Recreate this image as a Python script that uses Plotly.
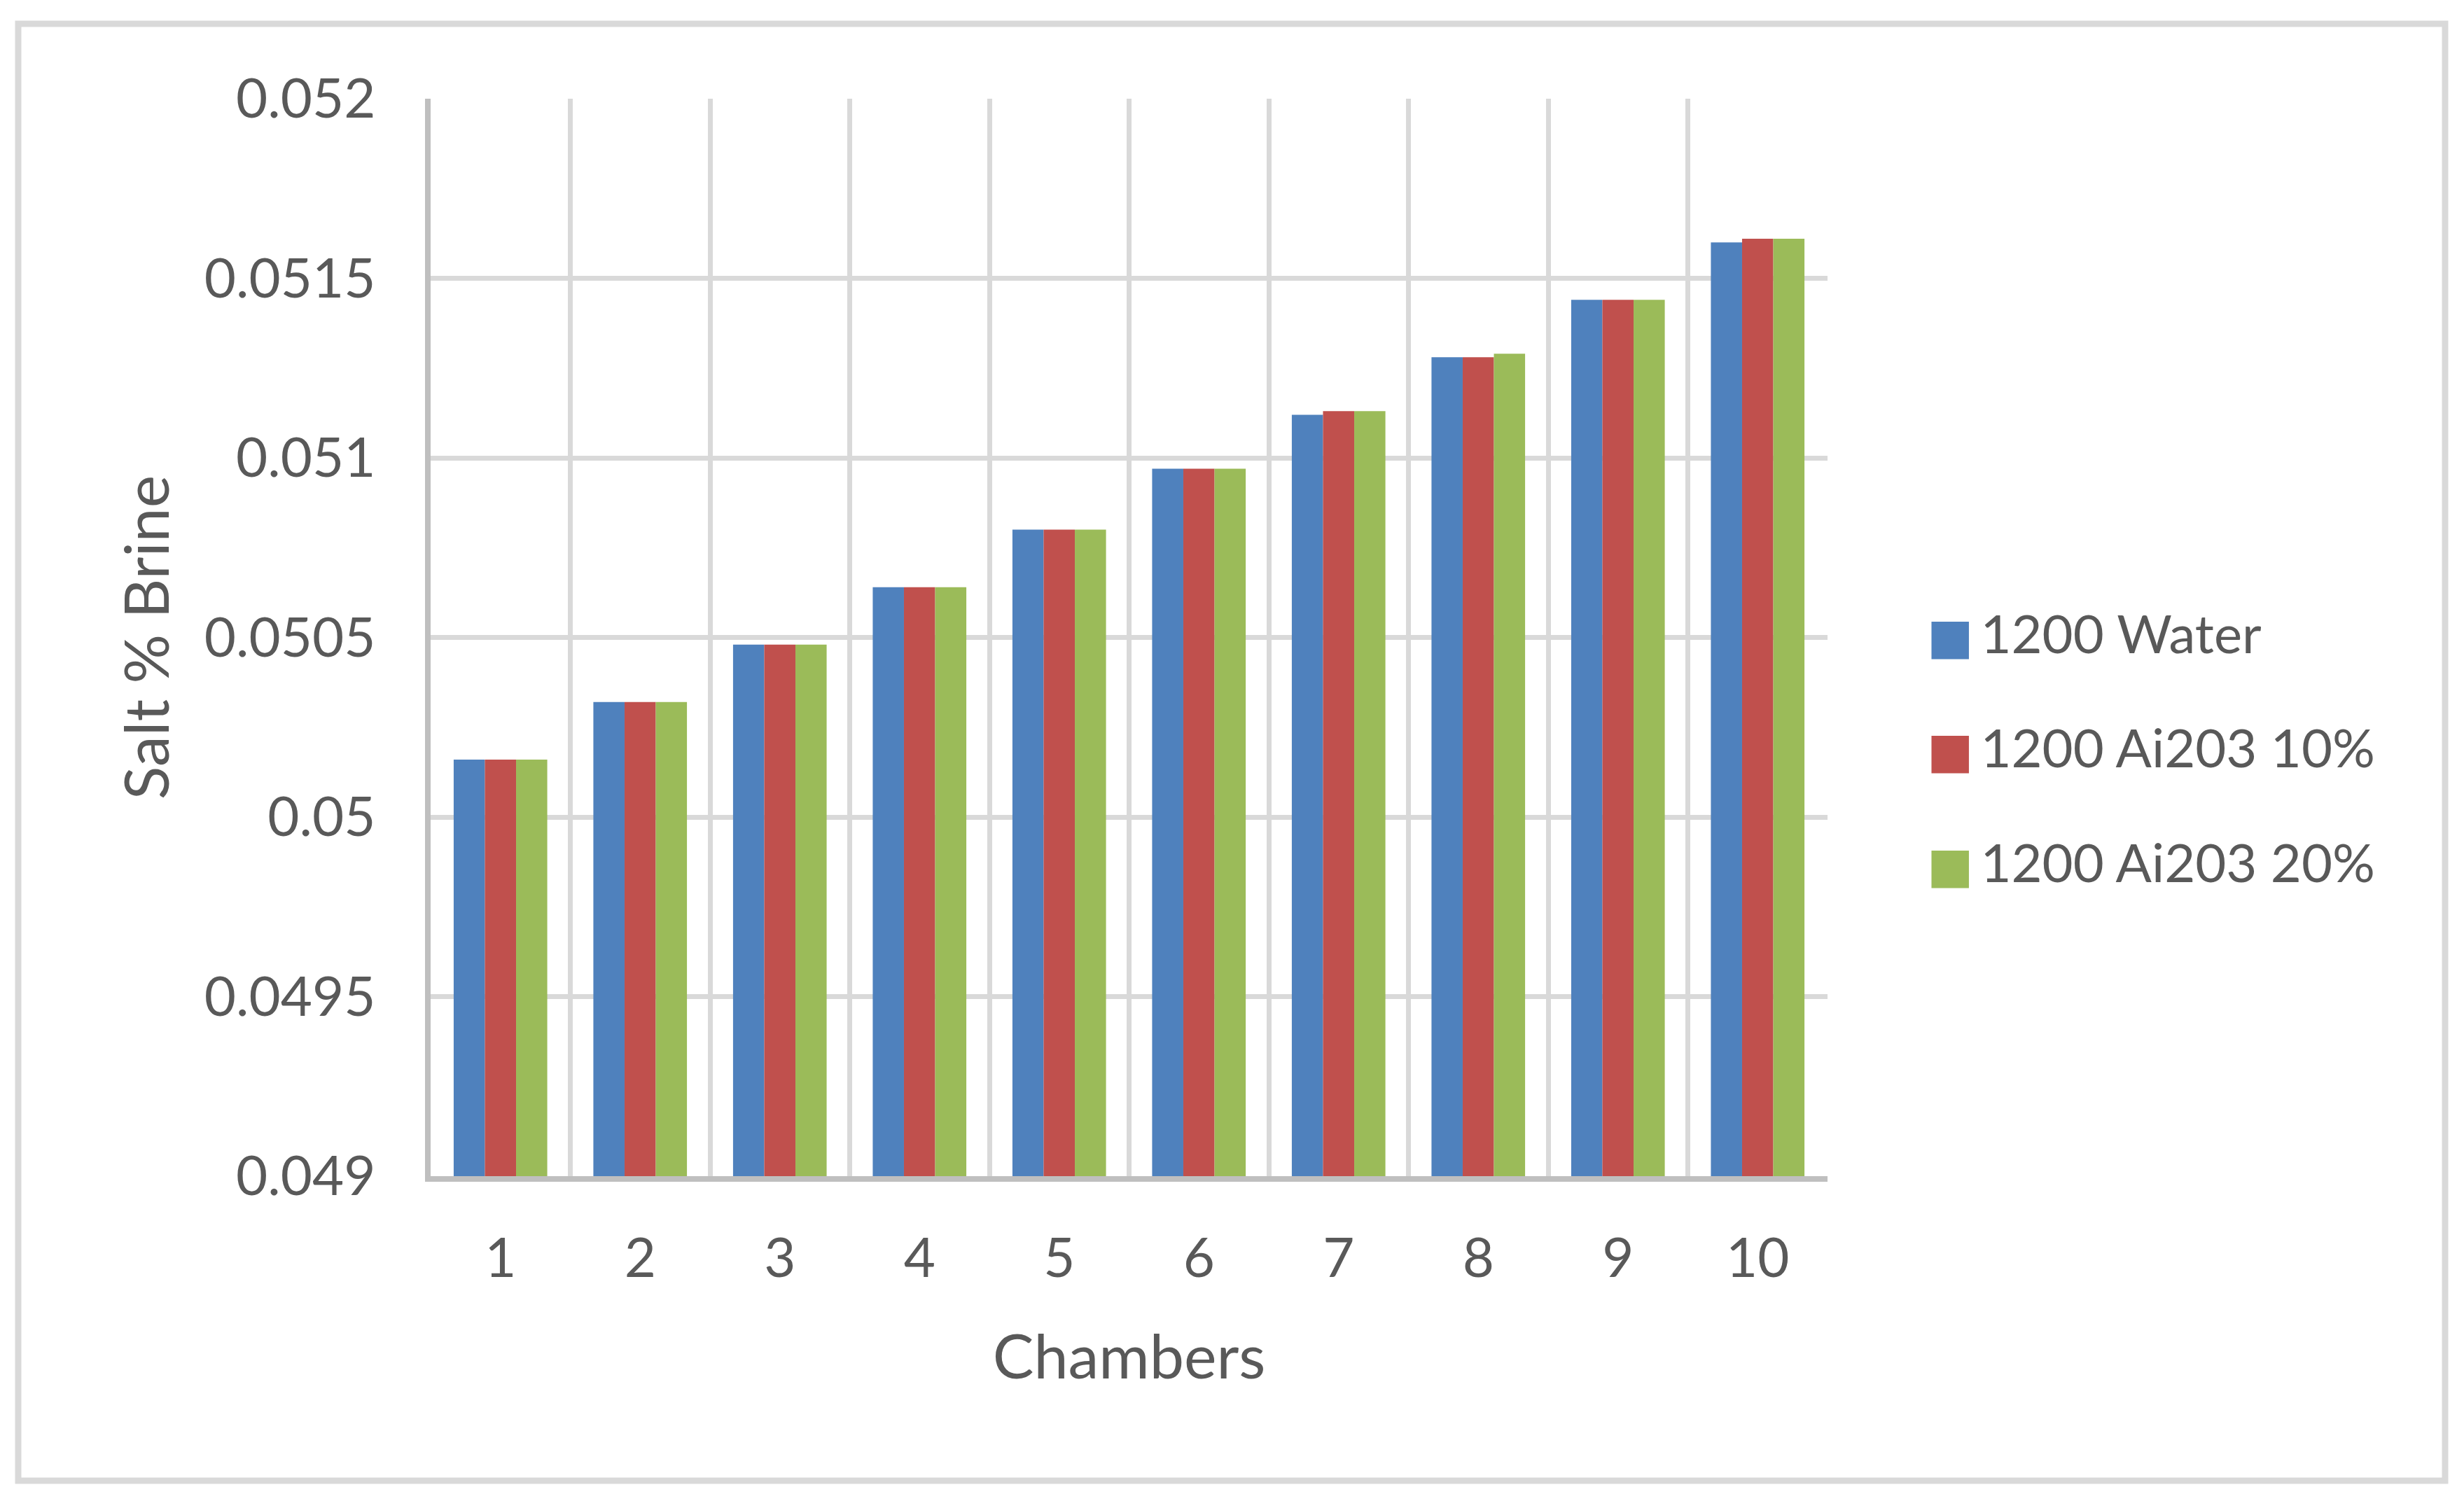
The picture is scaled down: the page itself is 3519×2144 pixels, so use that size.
import plotly.graph_objects as go

chambers = ["1", "2", "3", "4", "5", "6", "7", "8", "9", "10"]
water = [0.05016, 0.05032, 0.05048, 0.05064, 0.05080, 0.05097, 0.05112, 0.05128, 0.05144, 0.05160]
al10 = [0.05016, 0.05032, 0.05048, 0.05064, 0.05080, 0.05097, 0.05113, 0.05128, 0.05144, 0.05161]
al20 = [0.05016, 0.05032, 0.05048, 0.05064, 0.05080, 0.05097, 0.05113, 0.05129, 0.05144, 0.05161]
series_names = ["1200 Water", "1200 Ai203 10%", "1200 Ai203 20%"]
colors = ["#4F81BD", "#C0504D", "#9BBB59"]
y_tickvals = [0.049, 0.0495, 0.05, 0.0505, 0.051, 0.0515, 0.052]
y_ticktext = ["0.049", "0.0495", "0.05", "0.0505", "0.051", "0.0515", "0.052"]

# page body has an 8px default margin, so the figure is slightly smaller than the window
W, H = 3503, 2128
ML, MR, MT, MB = 607, 901, 133, 456
PW, PH = W - ML - MR, H - MT - MB
FONT = "Lato"
TXT = "#595959"

fig = go.Figure()
for i, (name, vals) in enumerate(zip(series_names, [water, al10, al20])):
    fig.add_trace(go.Bar(
        x=chambers, y=vals, name=name, marker_color=colors[i],
        marker_line_width=0, showlegend=False,
    ))
# legend entries: square glyph in series colour followed by the series name
for i, name in enumerate(series_names):
    fig.add_trace(go.Scatter(
        x=[None], y=[None], mode="markers",
        marker=dict(color="rgba(0,0,0,0)", size=1),
        name=(f'<span style="color:{colors[i]};font-family:DejaVu Sans;font-size:70px">■</span>'
              f'<span style="font-size:40px"> </span>{name}'),
        legendgroup=f"g{i}", showlegend=True,
    ))

fig.update_layout(
    width=W, height=H,
    margin=dict(l=ML, r=MR, t=MT, b=MB, autoexpand=False),
    paper_bgcolor="white", plot_bgcolor="white",
    barmode="group", bargap=0.33, bargroupgap=0,
    font=dict(family=FONT, color=TXT, size=78),
    showlegend=True,
    legend=dict(
        x=(2704 - ML) / PW, xanchor="left",
        y=(H - MB - 1059) / PH, yanchor="middle",
        font=dict(family=FONT, size=76, color=TXT),
        traceorder="grouped", tracegroupgap=62,
        bgcolor="rgba(0,0,0,0)", itemwidth=30,
    ),
    xaxis=dict(
        type="category", tickson="boundaries", showgrid=True,
        gridcolor="#D9D9D9", gridwidth=7,
        showline=True, linecolor="#BFBFBF", linewidth=8,
        ticks="", ticklabelstandoff=42,
        tickfont=dict(family=FONT, size=78, color=TXT),
        title=dict(text="Chambers", font=dict(family=FONT, size=88, color=TXT), standoff=71),
        automargin=False,
    ),
    yaxis=dict(
        range=[0.049, 0.052], tickvals=y_tickvals, ticktext=y_ticktext,
        showgrid=True, gridcolor="#D9D9D9", gridwidth=7, zeroline=False,
        showline=True, linecolor="#BFBFBF", linewidth=8,
        ticks="", ticklabelstandoff=55,
        tickfont=dict(family=FONT, size=78, color=TXT),
        title=dict(text="Salt % Brine", font=dict(family=FONT, size=88, color=TXT), standoff=24),
        automargin=False,
    ),
    shapes=[dict(
        type="rect", xref="paper", yref="paper",
        x0=(18 - ML) / PW, x1=(3484 - ML) / PW,
        y0=(H - MB - 2107) / PH, y1=(H - MB - 26) / PH,
        line=dict(color="#D9D9D9", width=9), fillcolor="rgba(0,0,0,0)", layer="below",
    )],
)

fig.write_html("out.html")
